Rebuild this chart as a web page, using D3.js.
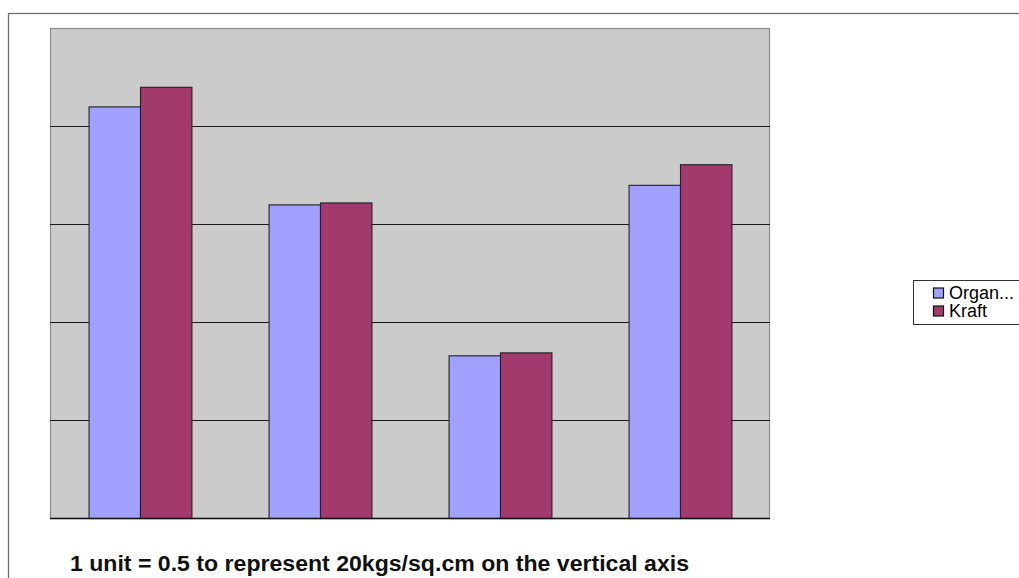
<!DOCTYPE html>
<html>
<head>
<meta charset="utf-8">
<script src="https://cdn.jsdelivr.net/npm/d3@7"></script>
<style>
  html, body { margin: 0; padding: 0; background: #ffffff; overflow: hidden; }
  svg { display: block; font-family: Arial, "Liberation Sans", sans-serif; }
</style>
</head>
<body>
<svg id="chart" width="1019" height="578"></svg>
<script>
// Strength readings per sample, in chart units (1 unit = 0.5)
const categories = ["Sample 1", "Sample 2", "Sample 3", "Sample 4"];
const seriesNames = ["Organ...", "Kraft"];
const organValues = [4.20, 3.20, 1.66, 3.40];
const kraftValues = [4.40, 3.22, 1.69, 3.61];
const yTicks = [0, 1, 2, 3, 4, 5];
const colors = ["#a0a0ff", "#a23a6e"];
const caption = "1 unit = 0.5 to represent 20kgs/sq.cm on the vertical axis";

const series = [organValues, kraftValues];
const svg = d3.select("#chart");

// outer chart frame
svg.append("rect")
  .attr("x", 8.5).attr("y", 13.5)
  .attr("width", 1030).attr("height", 600)
  .attr("fill", "#ffffff")
  .attr("stroke", "#6e6e6e").attr("stroke-width", 1.3);

const plot = { left: 50, right: 770, top: 28, bottom: 518 };

const y = d3.scaleLinear().domain([0, 5]).range([plot.bottom, plot.top]);
const x0 = d3.scaleBand().domain(categories)
  .range([plot.left, plot.right])
  .paddingInner(1.5 / 3.5).paddingOuter(0.75 / 3.5);
const x1 = d3.scaleBand().domain(seriesNames).range([0, x0.bandwidth()]).padding(0);

// plot area background
svg.append("rect")
  .attr("x", plot.left + 0.5).attr("y", plot.top + 0.5)
  .attr("width", plot.right - plot.left - 1).attr("height", plot.bottom - plot.top)
  .attr("fill", "#cbcbcb")
  .attr("stroke", "#8c8c8c").attr("stroke-width", 1.2);

// horizontal gridlines
const grid = svg.append("g")
  .attr("transform", `translate(${plot.left},0)`)
  .call(d3.axisLeft(y).tickValues(yTicks.slice(1, -1))
    .tickSize(-(plot.right - plot.left)).tickFormat(""));
grid.select(".domain").remove();
grid.selectAll(".tick line").attr("stroke", "#1a1a1a").attr("stroke-width", 1.2);

// bars
const groups = svg.append("g").selectAll("g")
  .data(categories)
  .join("g")
  .attr("transform", d => `translate(${x0(d)},0)`);

groups.selectAll("rect")
  .data((d, i) => seriesNames.map((s, j) => ({ s, j, v: series[j][i] })))
  .join("rect")
  .attr("x", d => x1(d.s) + 0.5)
  .attr("y", d => y(d.v) + 0.5)
  .attr("width", x1.bandwidth())
  .attr("height", d => y(0) - y(d.v))
  .attr("fill", d => colors[d.j])
  .attr("stroke", "#222222").attr("stroke-width", 1.1);

// category axis line
svg.append("line")
  .attr("x1", plot.left).attr("x2", plot.right)
  .attr("y1", plot.bottom + 0.5).attr("y2", plot.bottom + 0.5)
  .attr("stroke", "#111111").attr("stroke-width", 1.3);

// legend
const legend = svg.append("g");
legend.append("rect")
  .attr("x", 913.5).attr("y", 280.5)
  .attr("width", 140).attr("height", 44)
  .attr("fill", "#ffffff")
  .attr("stroke", "#333333").attr("stroke-width", 1);

seriesNames.forEach((name, i) => {
  const cy = 292.5 + i * 18;
  legend.append("rect")
    .attr("x", 933.5).attr("y", cy - 4.5)
    .attr("width", 10).attr("height", 10)
    .attr("fill", colors[i])
    .attr("stroke", "#111111").attr("stroke-width", 1.2);
  legend.append("text")
    .attr("x", 949).attr("y", cy + 6.5)
    .attr("font-size", 18)
    .attr("fill", "#000000")
    .text(name);
});

// caption below the plot
svg.append("text")
  .attr("x", 70).attr("y", 571)
  .attr("font-size", 22)
  .attr("font-weight", "bold")
  .attr("fill", "#111111")
  .attr("textLength", 619)
  .attr("lengthAdjust", "spacingAndGlyphs")
  .text(caption);
</script>
</body>
</html>
